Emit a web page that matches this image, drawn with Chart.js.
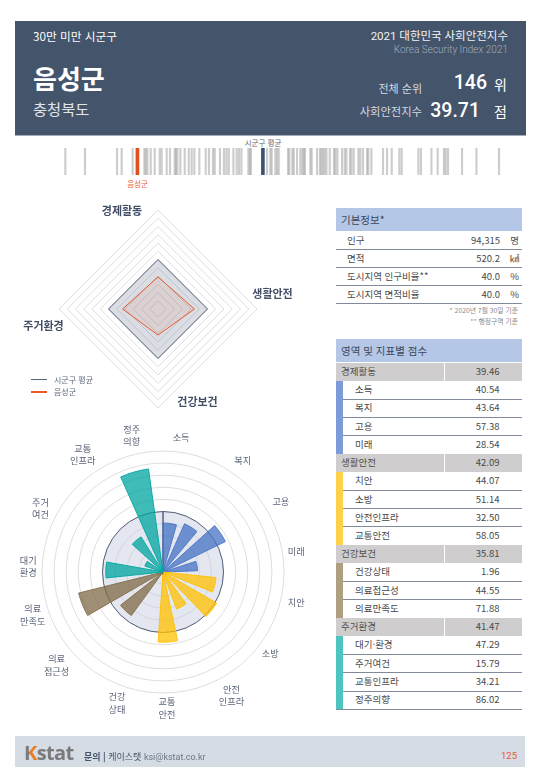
<!DOCTYPE html>
<html lang="ko"><head><meta charset="utf-8">
<script src="https://cdn.jsdelivr.net/npm/chart.js@4"></script>
<style>
html,body{margin:0;padding:0;background:#fff}
body{width:540px;height:780px;position:relative;overflow:hidden;font-family:"Noto Sans CJK KR","Noto Sans",sans-serif;color:#444}
.t{position:absolute;line-height:1;white-space:nowrap;transform:translateY(-50%)}
.r{text-align:right}
.num{font-family:Roboto,"Noto Sans CJK KR",sans-serif}
canvas{position:absolute;display:block}
#hd{position:absolute;left:14.5px;top:21px;width:511px;height:113.5px;background:#44546a;border-bottom:1.5px solid #a3abb8}
#ft{position:absolute;left:15px;top:736px;width:510px;height:31px;background:#d5dce4}
table{position:absolute;border-collapse:collapse;table-layout:fixed}
td{padding:0;font-size:9.5px;white-space:nowrap;line-height:1;color:#4a4a4a;box-sizing:border-box}
.hbox{position:absolute;left:336px;width:186px;background:#b4c7e7;font-size:10.5px;color:#3c4658;display:flex;align-items:center;text-indent:5px}
.lg{position:absolute;left:31px;width:16px}
</style></head><body>
<div id="hd"></div>
<div class="t" style="left:33px;top:36px;font-size:11.7px;color:#fff">30만 미만 시군구</div>
<div class="t" style="left:33px;top:78px;font-size:26px;color:#fff;font-weight:700">음성군</div>
<div class="t" style="left:33px;top:108.5px;font-size:15.3px;color:#e2e5ea">충청북도</div>
<div class="t r num" style="right:32px;top:37px;font-size:11.5px;color:#f0f2f5">2021 대한민국 사회안전지수</div>
<div class="t r" style="right:32px;top:50px;font-size:10px;color:#a4adbc;font-family:Roboto;font-weight:300">Korea Security Index 2021</div>
<div class="t r" style="right:118px;top:88px;font-size:11px;color:#d5d9e0">전체 순위</div>
<div class="t r" style="right:118px;top:112px;font-size:11.3px;color:#d5d9e0">사회안전지수</div>
<div class="t r num" style="right:53px;top:83px;font-size:19.5px;color:#fff;font-weight:500">146</div>
<div class="t r num" style="right:60px;top:111px;font-size:19.5px;color:#fff;font-weight:500">39.71</div>
<div class="t r" style="right:33px;top:84px;font-size:14px;color:#fff">위</div>
<div class="t r" style="right:33px;top:111px;font-size:14px;color:#fff">점</div>

<div class="t" style="left:263px;top:142.5px;font-size:7.5px;color:#5f6a7d;transform:translate(-50%,-50%)">시군구 평균</div>
<div class="t" style="left:137.5px;top:184px;font-size:7.5px;color:#e8643a;transform:translate(-50%,-50%)">음성군</div>

<canvas id="strip" width="500" height="27" style="left:19.3px;top:148px"></canvas>
<canvas id="radar" width="290" height="230" style="left:13px;top:194px"></canvas>
<canvas id="polar" width="320" height="320" style="left:3px;top:412px"></canvas>

<div class="lg" style="top:379px;height:1px;background:#5a6478"></div>
<div class="t" style="left:54px;top:379.5px;font-size:8px;color:#5f6a7d">시군구 평균</div>
<div class="lg" style="top:391px;height:2px;background:#e8592a"></div>
<div class="t" style="left:54px;top:392px;font-size:8px;color:#5f6a7d">음성군</div>

<div class="hbox" style="top:208px;height:23px">기본정보*</div>
<table id="info" style="left:336px;top:232px;width:186px"><colgroup><col style="width:120px"><col style="width:44px"><col style="width:22px"></colgroup></table>
<div class="t r" style="right:22px;top:310px;font-size:6.8px;color:#8a8a8a">* 2020년 7월 30일 기준</div>
<div class="t r" style="right:22px;top:320.5px;font-size:6.8px;color:#8a8a8a">** 행정구역 기준</div>
<div class="hbox" style="top:339px;height:23px">영역 및 지표별 점수</div>
<table id="scores" style="left:336px;top:362.5px;width:186px"><colgroup><col style="width:7px"><col style="width:101px"><col style="width:78px"></colgroup></table>

<div id="ft"></div>
<div class="t" style="left:24px;top:752.5px;font-size:20px;font-weight:700;font-family:'Open Sans';letter-spacing:-.6px;color:#7a7a7a"><span style="background:linear-gradient(90deg,#7a7a7a 42%,#ee7a1c 42%);-webkit-background-clip:text;background-clip:text;color:transparent">K</span>stat</div>
<div class="t" style="left:84px;top:756.5px;font-size:9px;color:#44546a"><b>문의 | </b>케이스탯 <span style="font-family:Roboto;color:#6b7686">ksi@kstat.co.kr</span></div>
<div class="t r num" style="right:23px;top:756px;font-size:9.5px;color:#e8592a">125</div>

<script>
// ---- data ----
const districtScores=[33.80,35.41,38.04,38.42,39.32,40.28,40.39,40.53,40.80,41.13,41.54,41.70,42.11,42.38,42.77,42.87,42.99,43.23,43.59,43.92,44.16,44.38,44.79,45.31,45.58,45.91,46.05,46.48,46.81,47.01,47.20,47.58,47.85,48.04,48.24,48.81,48.92,49.02,50.34,50.61,50.72,51.02,51.16,51.30,52.06,52.17,52.42,52.53,52.80,53.07,53.24,53.35,53.45,53.89,54.00,54.44,54.68,54.80,54.93,55.07,55.21,55.48,55.83,55.94,56.11,56.49,56.71,56.85,57.14,57.26,57.45,57.83,57.99,58.21,58.54,58.65,58.90,59.85,60.18,60.56,61.19,61.38,62.75,62.96,63.82,64.33,64.85,64.99,65.18,66.33,67.51,69.36];
const regionScore=39.71;
const averageScore=50;
const domains=["경제활동","생활안전","건강보건","주거환경"];
const domainScores=[39.46,42.09,35.81,41.47];
const domainAverage=[50,50,50,50];
const indicatorLabels=["소득","복지","고용","미래","치안","소방","안전인프라","교통안전","건강상태","의료접근성","의료만족도","대기·환경","주거여건","교통인프라","정주의향"];
const indicatorAxisLabels=[["소득"],["복지"],["고용"],["미래"],["치안"],["소방"],["안전","인프라"],["교통","안전"],["건강","상태"],["의료","접근성"],["의료","만족도"],["대기","환경"],["주거","여건"],["교통","인프라"],["정주","의향"]];
const indicatorScores=[40.54,43.64,57.38,28.54,44.07,51.14,32.50,58.05,1.96,44.55,71.88,47.29,15.79,34.21,86.02];
const indicatorDomain=[0,0,0,0,1,1,1,1,2,2,2,3,3,3,3];
const infoRows=[["인구","94,315","명"],["면적","520.2","㎢"],["도시지역 인구비율**","40.0","%"],["도시지역 면적비율","40.0","%"]];

// ---- styles ----
const FONT='"Noto Sans CJK KR","Noto Sans",sans-serif';
const wedgeColor=["rgba(68,114,196,.75)","rgba(255,192,0,.75)","rgba(127,106,69,.75)","rgba(0,166,160,.75)"];
const wedgeBorder=["rgba(68,114,196,.85)","rgba(255,192,0,.9)","rgba(127,106,69,.85)","rgba(0,166,160,.9)"];
const tableBar=["#7c9bd8","#ffd14a","#ae9f80","#4dc4c0"];
const radarLabelOffset=[[-36,-98],[114.5,-15],[39.5,93],[-114.5,17]];
const polarLabelNudge=[[-1,2],[7,5.4],[4,6],[-2,3],[0,-3],[-1,-2.6],[4,2],[-5.6,-1],[1,2],[-11,-5.7],[-3,-8.5],[2.5,-.5],[1,-3],[8,-12],[6.6,-4.3]];
const WEDGE=16,GAP=8,LABEL_VALUE=113.5;
Chart.defaults.animation=false;
Chart.defaults.font.family=FONT;
Chart.defaults.plugins.legend.display=false;
Chart.defaults.plugins.tooltip.enabled=false;

// ---- strip ----
new Chart(document.getElementById("strip"),{type:"bar",
 data:{datasets:[
  {data:districtScores.map(x=>({x,y:1})),backgroundColor:"rgba(150,150,150,.48)",barThickness:1.5,order:3},
  {data:[{x:regionScore,y:1}],backgroundColor:"#e0501f",barThickness:3,order:1},
  {data:[{x:averageScore,y:1}],backgroundColor:"#3f5170",barThickness:3,order:2}]},
 options:{responsive:false,grouped:false,layout:{padding:0},
  scales:{x:{type:"linear",min:30,max:71,display:false,offset:false},y:{min:0,max:1,display:false}}}});

// ---- radar ----
new Chart(document.getElementById("radar"),{type:"radar",
 data:{labels:domains,datasets:[
  {label:"음성군",data:domainScores,borderColor:"#e8592a",backgroundColor:"rgba(232,89,42,.09)",borderWidth:1,pointRadius:0,fill:true,order:1},
  {label:"시군구 평균",data:domainAverage,borderColor:"#55627c",backgroundColor:"rgba(68,84,120,.2)",borderWidth:1,pointRadius:0,fill:true,order:2}]},
 options:{responsive:false,layout:{padding:{top:16,bottom:16}},
  scales:{r:{min:20,max:80,ticks:{display:false,stepSize:5},grid:{color:"#dfdfdf",lineWidth:1,circular:false},angleLines:{display:false},pointLabels:{display:false}}}},
 plugins:[{id:"radarLabels",afterDraw(c){const s=c.scales.r,x=c.ctx;x.save();x.font="bold 11px "+FONT;x.fillStyle="#414e66";x.textAlign="center";x.textBaseline="middle";
   domains.forEach((d,i)=>x.fillText(d,s.xCenter+radarLabelOffset[i][0],s.yCenter+radarLabelOffset[i][1]));x.restore();}}]});

// ---- polar ----
new Chart(document.getElementById("polar"),{type:"polarArea",
 data:{labels:indicatorLabels.flatMap(l=>[l,""]),datasets:[
  {label:"지표",data:indicatorScores.flatMap(v=>[v,0]),order:1,angle:c=>c.dataIndex%2?GAP:WEDGE,
   backgroundColor:c=>wedgeColor[indicatorDomain[c.dataIndex>>1]],
   borderColor:c=>wedgeBorder[indicatorDomain[c.dataIndex>>1]],
   borderWidth:c=>c.dataIndex%2?0:1},
  {label:"시군구 평균",data:[averageScore],order:2,angle:360,backgroundColor:"rgba(190,198,220,.42)",borderColor:"#55627c",borderWidth:1}]},
 options:{responsive:false,layout:{padding:39},
  scales:{r:{min:0,max:100,ticks:{display:false,stepSize:10},grid:{color:"#dedede",lineWidth:1,circular:true},angleLines:{display:false},pointLabels:{display:false}}}},
 plugins:[{id:"polarLabels",afterDraw(c){const s=c.scales.r,x=c.ctx,r=s.getDistanceFromCenterForValue(LABEL_VALUE);x.save();x.font="9.2px "+FONT;x.fillStyle="#5a6478";x.textAlign="center";x.textBaseline="middle";
   indicatorAxisLabels.forEach((l,i)=>{const a=(WEDGE/2+(WEDGE+GAP)*i)*Math.PI/180,cx=s.xCenter+Math.sin(a)*r+polarLabelNudge[i][0],cy=s.yCenter-Math.cos(a)*r+polarLabelNudge[i][1];
    l.forEach((t,j)=>x.fillText(t,cx,cy+(j-(l.length-1)/2)*12.4));});x.restore();}}]});

// ---- tables ----
const LINE="1.2px solid #808a9a";
const info=document.getElementById("info");
infoRows.forEach(r=>{const tr=info.insertRow();tr.style.height="17.8px";tr.style.borderBottom=LINE;
 tr.innerHTML=`<td style="padding-left:11px">${r[0]}</td><td style="text-align:right">${r[1]}</td><td style="text-align:center;padding-left:7px">${r[2]}</td>`;});
const sc=document.getElementById("scores");
let rows=[];domains.forEach((d,di)=>{rows.push({g:1,l:d,v:domainScores[di],d:di});
 indicatorLabels.forEach((l,i)=>{if(indicatorDomain[i]===di)rows.push({g:0,l,v:indicatorScores[i],d:di});});});
rows.forEach((r,i)=>{const tr=sc.insertRow();tr.style.height="18.25px";const f=v=>v.toFixed(2);
 if(r.g){tr.innerHTML=`<td colspan="2" style="background:#cfcdcd;padding-left:5px;color:#4f4f4f;border-right:1px solid #fff">${r.l}</td><td style="background:#cfcdcd;text-align:right;padding-right:22.5px">${f(r.v)}</td>`;}
 else{const end=i===rows.length-1;const last=!end&&rows[i+1].g;const bd=(last?"":"border-bottom:"+LINE+";");
  tr.innerHTML=`<td style="background:${tableBar[r.d]};${end?"border-bottom:"+LINE:""}"></td><td style="padding-left:12px;${bd}">${r.l}</td><td style="text-align:right;padding-right:22.5px;${bd}">${f(r.v)}</td>`;}
});
</script>
</body></html>
